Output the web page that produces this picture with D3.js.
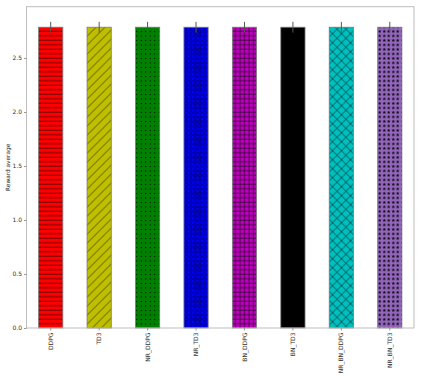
<!DOCTYPE html>
<html>
<head>
<meta charset="utf-8">
<script src="https://d3js.org/d3.v7.min.js"></script>
<style>
  body { margin: 0; background: #fff; }
  text { font-family: "DejaVu Sans", sans-serif; }
</style>
</head>
<body>
<div id="chart"></div>
<script>
// values
var algorithms = ["DDPG", "TD3", "NR_DDPG", "NR_TD3", "BN_DDPG", "BN_TD3", "NR_BN_DDPG", "NR_BN_TD3"];
var rewardMean = [2.785, 2.785, 2.785, 2.785, 2.785, 2.785, 2.785, 2.785];
var rewardErr = [0.05, 0.05, 0.05, 0.05, 0.05, 0.05, 0.05, 0.05];
var yTicks = [0.0, 0.5, 1.0, 1.5, 2.0, 2.5];

// styles
var barColors = ["#ff0000", "#bfbf00", "#008000", "#0000ff", "#bf00bf", "#000000", "#00bfbf", "#9467bd"];
var hatches = ["-", "/", ".", "o", "+", "", "x", "*"];

var svgWidth = 422, svgHeight = 379;
var margin = { top: 6.7, right: 8, bottom: 51, left: 26.5 };
var width = svgWidth - margin.left - margin.right;
var height = svgHeight - margin.top - margin.bottom;

var svg = d3.select("#chart").append("svg")
    .attr("width", svgWidth)
    .attr("height", svgHeight);

var defs = svg.append("defs");
var hatchInk = "rgba(0,0,0,0.7)";

function makePattern(i) {
    var s = (hatches[i] === "/" || hatches[i] === "x") ? 9 : 4.5;
    var p = defs.append("pattern")
        .attr("id", "hatch" + i)
        .attr("patternUnits", "userSpaceOnUse")
        .attr("width", s)
        .attr("height", s);
    p.append("rect").attr("width", s).attr("height", s).attr("fill", barColors[i]);
    var h = hatches[i];
    if (h === "-") {
        p.append("line").attr("x1", 0).attr("x2", s).attr("y1", 2).attr("y2", 2)
            .attr("stroke", hatchInk).attr("stroke-width", 0.8);
    } else if (h === "/") {
        [[0, s, s, 0], [-s / 2, s / 2, s / 2, -s / 2], [s / 2, s * 1.5, s * 1.5, s / 2]].forEach(function(c) {
            p.append("line").attr("x1", c[0]).attr("y1", c[1]).attr("x2", c[2]).attr("y2", c[3])
                .attr("stroke", hatchInk).attr("stroke-width", 0.8);
        });
    } else if (h === "x") {
        [[0, s, s, 0], [0, 0, s, s]].forEach(function(c) {
            p.append("line").attr("x1", c[0]).attr("y1", c[1]).attr("x2", c[2]).attr("y2", c[3])
                .attr("stroke", hatchInk).attr("stroke-width", 0.8);
        });
    } else if (h === ".") {
        p.append("circle").attr("cx", s / 2).attr("cy", s / 2).attr("r", 0.6).attr("fill", "#000");
    } else if (h === "o") {
        p.append("circle").attr("cx", s / 2).attr("cy", s / 2).attr("r", 1.5)
            .attr("fill", "none").attr("stroke", hatchInk).attr("stroke-width", 0.8);
    } else if (h === "+") {
        p.append("line").attr("x1", 0).attr("x2", s).attr("y1", 2).attr("y2", 2)
            .attr("stroke", hatchInk).attr("stroke-width", 0.8);
        p.append("line").attr("y1", 0).attr("y2", s).attr("x1", 2).attr("x2", 2)
            .attr("stroke", hatchInk).attr("stroke-width", 0.8);
    } else if (h === "*") {
        p.append("path").attr("d", d3.symbol(d3.symbolStar, 4)())
            .attr("transform", "translate(" + s / 2 + "," + s / 2 + ")")
            .attr("fill", "#000");
    }
}
barColors.forEach(function(c, i) { makePattern(i); });

var chartGroup = svg.append("g")
    .attr("transform", `translate(${margin.left}, ${margin.top})`);

var xScale = d3.scaleBand()
    .domain(algorithms)
    .range([0, width])
    .paddingInner(0.5)
    .paddingOuter(0.25);

var yScale = d3.scaleLinear()
    .domain([0, 2.975])
    .range([height, 0]);

// bars
chartGroup.selectAll("rect.bar")
    .data(algorithms)
    .enter()
    .append("rect")
    .attr("class", "bar")
    .attr("x", d => xScale(d))
    .attr("width", xScale.bandwidth())
    .attr("y", (d, i) => yScale(rewardMean[i]))
    .attr("height", (d, i) => height - yScale(rewardMean[i]))
    .attr("fill", (d, i) => "url(#hatch" + i + ")")
    .attr("stroke", "#7a7a7a")
    .attr("stroke-width", 0.8);

// error bars
chartGroup.selectAll("line.err")
    .data(algorithms)
    .enter()
    .append("line")
    .attr("class", "err")
    .attr("x1", d => xScale(d) + xScale.bandwidth() / 2)
    .attr("x2", d => xScale(d) + xScale.bandwidth() / 2)
    .attr("y1", (d, i) => yScale(rewardMean[i] + rewardErr[i]))
    .attr("y2", (d, i) => yScale(rewardMean[i] - rewardErr[i]))
    .attr("stroke", "#555")
    .attr("stroke-width", 1);

// spines
chartGroup.append("rect")
    .attr("width", width)
    .attr("height", height)
    .attr("fill", "none")
    .attr("stroke", "#bdbdbd")
    .attr("stroke-width", 1);

var yAxis = d3.axisLeft(yScale)
    .tickValues(yTicks)
    .tickFormat(d3.format(".1f"))
    .tickSize(2.5)
    .tickPadding(2);

var yG = chartGroup.append("g").call(yAxis);
yG.select(".domain").remove();
yG.selectAll("line").attr("stroke", "#999");
yG.selectAll("text").attr("font-size", 6).attr("fill", "#333");

var xAxis = d3.axisBottom(xScale).tickSize(2.5);
var xG = chartGroup.append("g")
    .attr("transform", `translate(0, ${height})`)
    .call(xAxis);
xG.select(".domain").remove();
xG.selectAll("line").attr("stroke", "#999");
xG.selectAll("text")
    .attr("font-size", 6)
    .attr("fill", "#333")
    .attr("transform", "rotate(-90)")
    .attr("x", -4.5)
    .attr("y", 0)
    .attr("dy", "0.35em")
    .attr("text-anchor", "end");

svg.append("text")
    .attr("transform", `translate(10, ${margin.top + height / 2}) rotate(-90)`)
    .attr("text-anchor", "middle")
    .attr("font-size", 5.8)
    .attr("fill", "#222")
    .text("Reward average");
</script>
</body>
</html>
